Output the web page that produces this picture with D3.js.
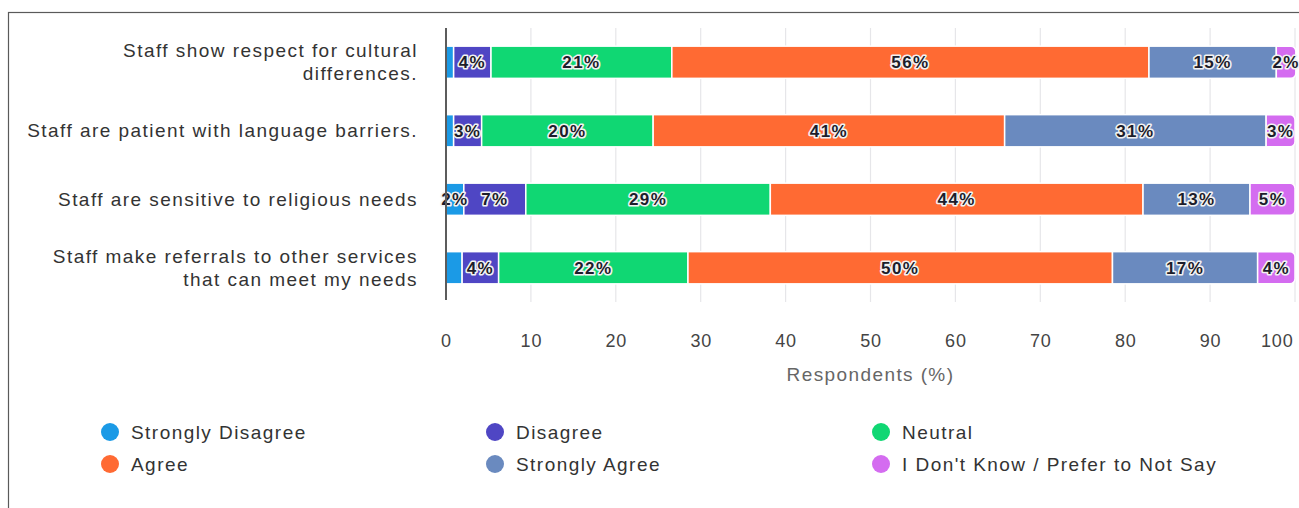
<!DOCTYPE html>
<html>
<head>
<meta charset="utf-8">
<script src="https://cdn.jsdelivr.net/npm/d3@7"></script>
<style>
  html, body { margin: 0; padding: 0; background: #fff; }
  svg { display: block; font-family: "Liberation Sans", Arial, Helvetica, sans-serif; }
</style>
</head>
<body>
<svg id="chart" width="1299" height="508"></svg>
<script>
// Survey statements (rows), each split into response shares (percent of respondents)
const statements = [
  ["Staff show respect for cultural", "differences."],
  ["Staff are patient with language barriers."],
  ["Staff are sensitive to religious needs"],
  ["Staff make referrals to other services", "that can meet my needs"]
];
const responses = ["Strongly Disagree", "Disagree", "Neutral", "Agree", "Strongly Agree", "I Don't Know / Prefer to Not Say"];
const stronglyDisagree = [0.9, 0.9, 2.1, 1.9];
const disagree         = [4.4, 3.3, 7.3, 4.3];
const neutral          = [21.3, 20.2, 28.8, 22.3];
const agree            = [56.2, 41.4, 43.9, 50.0];
const stronglyAgree    = [15.0, 30.8, 12.6, 17.1];
const dontKnow         = [2.3, 3.4, 5.3, 4.4];
const xTicks = [0, 10, 20, 30, 40, 50, 60, 70, 80, 90, 100];
const colors = ["#1b9ae6", "#4f46c4", "#10d773", "#ff6a33", "#6a8abf", "#d46cf0"];

const seriesValues = [stronglyDisagree, disagree, neutral, agree, stronglyAgree, dontKnow];
const rows = statements.map((s, i) => {
  const r = { id: i };
  responses.forEach((k, j) => { r[k] = seriesValues[j][i]; });
  return r;
});

const svg = d3.select("#chart");

// outer panel frame
svg.append("rect")
  .attr("x", 8.5).attr("y", 12.5)
  .attr("width", 1400).attr("height", 600)
  .attr("fill", "#fff").attr("stroke", "#5a5a5a").attr("stroke-width", 1.2);

const plot = { left: 446, right: 1295, top: 28, bottom: 302 };

const x = d3.scaleLinear().domain([0, 100]).range([plot.left, plot.right]);
const y = d3.scaleBand().domain(rows.map(r => r.id)).range([plot.top, plot.bottom]).paddingInner(0.53).paddingOuter(0.265);

// vertical gridlines
svg.append("g").selectAll("line").data(xTicks.filter(t => t > 0)).join("line")
  .attr("x1", d => x(d)).attr("x2", d => x(d))
  .attr("y1", plot.top).attr("y2", plot.bottom)
  .attr("stroke", "#e6e6e9").attr("stroke-width", 1.2);

// stacked segments
const stack = d3.stack().keys(responses)(rows);
const segG = svg.append("g");
stack.forEach((layer, li) => {
  const last = li === stack.length - 1;
  layer.forEach((seg, ri) => {
    const x0 = x(seg[0]), x1 = x(seg[1]);
    const yy = y(ri), h = y.bandwidth();
    const w = Math.max(0, x1 - x0);
    if (last) {
      const rad = Math.min(5, w / 2);
      const p = d3.path();
      p.moveTo(x0, yy);
      p.lineTo(x1 - rad, yy);
      p.arcTo(x1, yy, x1, yy + rad, rad);
      p.lineTo(x1, yy + h - rad);
      p.arcTo(x1, yy + h, x1 - rad, yy + h, rad);
      p.lineTo(x0, yy + h);
      p.closePath();
      segG.append("path").attr("d", p.toString())
        .attr("fill", colors[li]).attr("stroke", "#fff").attr("stroke-width", 1.5);
    } else {
      segG.append("rect")
        .attr("x", x0).attr("y", yy).attr("width", w).attr("height", h)
        .attr("fill", colors[li]).attr("stroke", "#fff").attr("stroke-width", 1.5);
    }
  });
});

// value labels on segments
const labG = svg.append("g");
stack.forEach((layer, li) => {
  layer.forEach((seg, ri) => {
    const v = seg[1] - seg[0];
    if (v < 2) return;
    labG.append("text")
      .attr("x", (x(seg[0]) + x(seg[1])) / 2)
      .attr("y", y(ri) + y.bandwidth() / 2)
      .attr("dy", "0.36em")
      .attr("text-anchor", "middle")
      .attr("font-size", 17).attr("font-weight", "bold")
      .attr("letter-spacing", 1.4)
      .attr("fill", "#1d1d2b")
      .attr("stroke", "#f2f2f2").attr("stroke-width", 3.2).attr("stroke-linejoin", "round")
      .attr("paint-order", "stroke")
      .text(d3.format(".0f")(v) + "%");
  });
});

// zero baseline
svg.append("line")
  .attr("x1", x(0)).attr("x2", x(0))
  .attr("y1", plot.top).attr("y2", plot.bottom - 2)
  .attr("stroke", "#5c5c5c").attr("stroke-width", 2);

// category labels
const catG = svg.append("g");
statements.forEach((lines, i) => {
  const cy = y(i) + y.bandwidth() / 2;
  const lh = 23;
  const t = catG.append("text")
    .attr("text-anchor", "end")
    .attr("font-size", 19).attr("letter-spacing", 1.45).attr("fill", "#333");
  lines.forEach((ln, k) => {
    t.append("tspan")
      .attr("x", 418)
      .attr("y", cy + (k - (lines.length - 1) / 2) * lh)
      .attr("dy", "0.35em")
      .text(ln);
  });
});

// x axis
const xAxis = svg.append("g")
  .attr("transform", `translate(0,${plot.bottom})`)
  .call(d3.axisBottom(x).tickValues(xTicks).tickSize(0).tickPadding(32));
xAxis.select(".domain").remove();
xAxis.selectAll("text")
  .attr("font-size", 18).attr("letter-spacing", 0.8).attr("fill", "#444")
  .attr("font-family", "'Liberation Sans', Arial, sans-serif");
xAxis.selectAll(".tick").filter(d => d === 100).select("text")
  .attr("text-anchor", "end").attr("dx", -2);

svg.append("text")
  .attr("x", (plot.left + plot.right) / 2).attr("y", 381)
  .attr("text-anchor", "middle")
  .attr("font-size", 19).attr("letter-spacing", 1.4).attr("fill", "#666")
  .text("Respondents (%)");

// legend: three columns, two rows
const legendCols = [110, 495, 881];
const legendRows = [432, 464];
const legG = svg.append("g");
responses.forEach((name, i) => {
  const cx = legendCols[i % 3], cy = legendRows[Math.floor(i / 3)];
  legG.append("circle").attr("cx", cx).attr("cy", cy).attr("r", 9).attr("fill", colors[i]);
  legG.append("text").attr("x", cx + 21).attr("y", cy).attr("dy", "0.35em")
    .attr("font-size", 19).attr("letter-spacing", 1.45).attr("fill", "#333").text(name);
});
</script>
</body>
</html>
